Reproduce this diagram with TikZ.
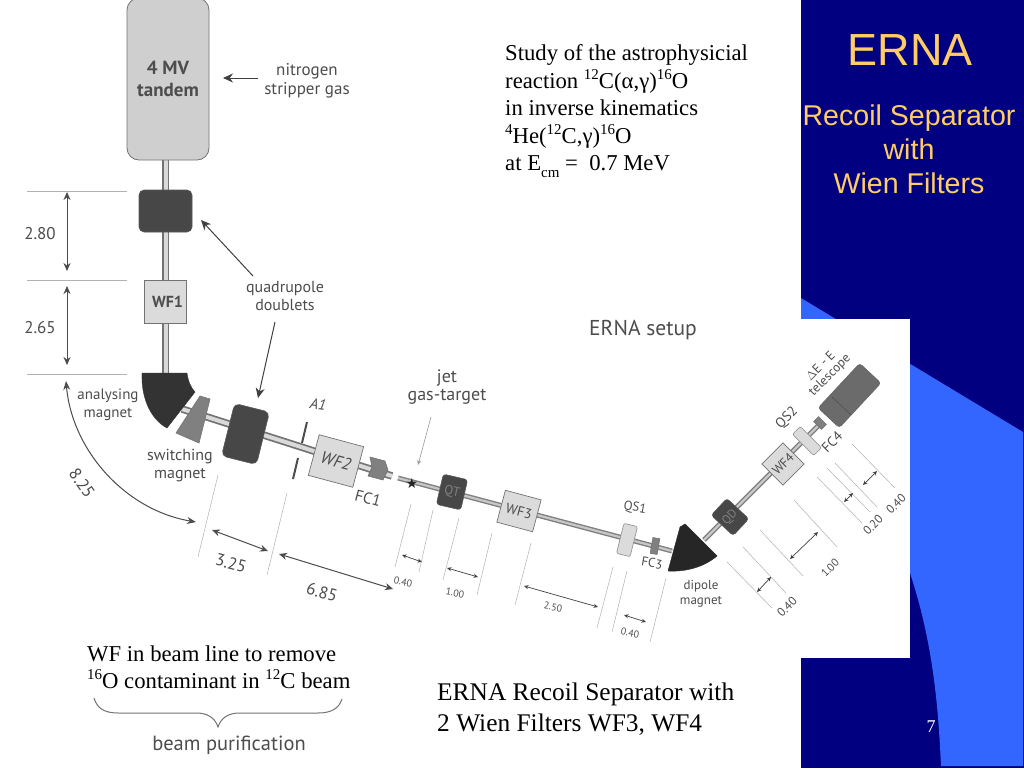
\documentclass[tikz,border=0pt]{standalone}
\usepackage{fontspec}
\setmainfont{Liberation Serif}
\newfontfamily\arialf{Liberation Sans}
\newfontfamily\handf{PT Sans}
\newfontfamily\symf{DejaVu Sans}
\usetikzlibrary{arrows.meta}
\definecolor{navybg}{HTML}{000080}
\definecolor{lightbg}{HTML}{3366FF}
\definecolor{titlecol}{HTML}{FFCC66}
\definecolor{ink}{HTML}{4D4D4D}
\tikzset{
  x=1pt,y=-1pt,
  hand/.style={font=\handf\fontsize{#1}{#1}\selectfont,text=ink,inner sep=0pt,align=center},
  handit/.style={font=\handf\itshape\fontsize{#1}{#1}\selectfont,text=ink,inner sep=0pt,align=center},
  serif/.style={font=\fontsize{#1}{#1}\selectfont,text=black,inner sep=0pt,anchor=base west},
  titletext/.style={font=\arialf\fontsize{#1}{#1}\selectfont,text=titlecol,inner sep=0pt,anchor=base},
  dark/.style={draw=black!65,fill=black!72,line width=.6pt,inner sep=0pt},
  lightbox/.style={draw=black!55,fill=black!14,line width=.7pt,inner sep=0pt,text=ink},
  softbox/.style={draw=black!45,fill=black!14,line width=.6pt,rounded corners=2pt,inner sep=0pt},
  midbox/.style={draw=black!55,fill=black!50,line width=.6pt,inner sep=0pt},
  pipe/.style={draw=black!55,line width=7.5pt},
  pipein/.style={draw=black!15,line width=4pt},
  thinpipe/.style={draw=black!50,line width=5pt},
  thinpipein/.style={draw=black!22,line width=2.2pt},
  ext/.style={draw=black!30,line width=.7pt},
  extthin/.style={draw=black!30,line width=.5pt},
  dim/.style={draw=black!70,line width=1pt,{Stealth[length=8pt,width=7pt]}-{Stealth[length=8pt,width=7pt]}},
  dimsmall/.style={draw=black!75,line width=.7pt,{Stealth[length=4.5pt,width=4pt]}-{Stealth[length=4.5pt,width=4pt]}},
  pointer/.style={draw=black!75,line width=1pt,-{Stealth[length=10pt,width=9pt]}},
}
\newcommand{\ionup}[1]{\raisebox{.38em}{\fontsize{15}{15}\selectfont #1}}
\begin{document}
\begin{tikzpicture}
\useasboundingbox (0,0) rectangle (1024,768);
% slide background
\fill[navybg] (0,0) rectangle (1024,768);
\fill[lightbg] (801,298) -- (1023,432) -- (1023,766) -- (941,766) .. controls (938,700) and (932,640) .. (910,573) -- (801,400) -- cycle;
\fill[white] (0,0) rectangle (801,768);
\fill[white] (801,319) rectangle (910,658);

% beam pipes
\coordinate (tpipe) at (165.5,158);
\coordinate (mpipe) at (165.5,376);
\draw[pipe] (tpipe) -- (mpipe);
\draw[pipein] (tpipe) -- (mpipe);
\coordinate (p1) at (182,409);
\coordinate (p2) at (392,476);
\draw[pipe] (p1) -- (p2);
\draw[pipein] (p1) -- (p2);
\coordinate (p3) at (398,478);
\coordinate (p4) at (672,551);
\draw[thinpipe] (p3) -- (p4);
\draw[thinpipein] (p3) -- (p4);
\coordinate (p5) at (704,540);
\coordinate (p6) at (822,422);
\draw[thinpipe] (p5) -- (p6);
\draw[thinpipein] (p5) -- (p6);

% vertical beam line elements
\node[draw=black!55,fill=black!19,line width=.8pt,rounded corners=12pt,minimum width=82pt,minimum height=162pt,inner sep=0pt,align=center,text=ink,font=\handf\bfseries\fontsize{19}{22}\selectfont] (tandem) at (168,79) {4 MV\\tandem};
\node[dark,rounded corners=5pt,minimum width=53pt,minimum height=42pt] (q1) at (165.5,211) {};
\node[lightbox,minimum width=42pt,minimum height=43pt,font=\handf\bfseries\fontsize{16}{16}\selectfont] (wf1) at (165.5,302) {\hspace{4pt}WF1};

% magnets
\path[fill=black!80,draw=black!80] (142,373) -- (187,373) .. controls (188,381) and (191,388) .. (195,392) -- (167,428) .. controls (152,420) and (141,400) .. (142,373) -- cycle;
\path[midbox] (200,396) -- (210,399) -- (199,443) -- (176,433) -- cycle;

% second section
\node[dark,rounded corners=5pt,minimum width=36pt,minimum height=54pt,rotate=-14] (q2) at (245.5,434) {};
\node[lightbox,minimum width=46pt,minimum height=42pt,rotate=-15,font=\handf\itshape\fontsize{17}{17}\selectfont] (wf2) at (336,461) {WF2};
\path[midbox] (370,457) -- (385,461) -- (388,470) -- (383,480) -- (368,476) -- (372,467) -- cycle;
\coordinate (a1a) at (307,422); \coordinate (a1b) at (302,443);
\coordinate (a1c) at (298,458); \coordinate (a1d) at (293,479);
\draw[draw=black!70,line width=2pt] (a1a) -- (a1b);
\draw[draw=black!70,line width=2pt] (a1c) -- (a1d);
\node[handit=15,rotate=-8] (a1) at (318,404) {A1};
\node[hand=16,rotate=-15] (fc1t) at (368,498) {FC1};
\node[text=black!85,inner sep=0pt,font=\symf\fontsize{14}{14}\selectfont] (star) at (412,483) {★};

% third section
\node[dark,rounded corners=3pt,minimum width=25pt,minimum height=31pt,rotate=-13,text=black!50,font=\handf\fontsize{13}{13}\selectfont] (qt) at (452,492) {QT};
\node[lightbox,minimum width=37pt,minimum height=33pt,rotate=-15,font=\handf\fontsize{14}{14}\selectfont] (wf3) at (519,511) {WF3};
\node[softbox,minimum width=14pt,minimum height=31pt,rotate=-14] (qs1) at (627,540) {};
\node[hand=13,rotate=-10] (qs1t) at (635,508) {QS1};
\node[midbox,minimum width=7pt,minimum height=16pt,rotate=-10] (fc3) at (655,546) {};
\node[hand=13,rotate=-10] (fc3t) at (652,563) {FC3};
\path[fill=black!85,draw=black!85] (685,524) -- (717,556) .. controls (704,567) and (686,572) .. (668,571) -- (680,527) -- cycle;

% last section
\node[dark,rounded corners=3pt,minimum width=23pt,minimum height=30pt,rotate=47,text=black!50,font=\handf\fontsize{12}{12}\selectfont] (qd) at (730,517) {QD};
\node[lightbox,minimum width=30pt,minimum height=30pt,rotate=45,font=\handf\fontsize{13}{13}\selectfont] (wf4) at (783,464) {WF4};
\node[softbox,minimum width=30pt,minimum height=11pt,rotate=-45] (qs2) at (807,441) {};
\node[midbox,minimum width=11pt,minimum height=7pt,rotate=-45] (fc4) at (820,423) {};
\node[draw=black!60,fill=black!58,line width=.6pt,rounded corners=3pt,minimum width=61pt,minimum height=29pt,inner sep=0pt,rotate=47] (tele) at (849.5,395.5) {};
\coordinate (telea) at (832,397);
\coordinate (teleb) at (851,415);
\draw[draw=black!70,line width=.5pt] (telea) -- (teleb);
\node[text=ink,inner sep=0pt,align=center,font=\handf\fontsize{13}{13}\selectfont,rotate=45] (telet) at (825.5,371) {$\Delta$E - E\\telescope};
\node[hand=14,rotate=45] (qs2t) at (787,418) {QS2};
\node[hand=14,rotate=45] (fc4t) at (832,442) {FC4};

% labels
\node[hand=17] (nitro) at (307,81) {nitrogen\\[2pt]stripper gas};
\node[hand=16] (quad) at (285,296) {quadrupole\\[2pt]doublets};
\node[hand=15] (anal) at (108,404.5) {analysing\\[3pt]magnet};
\node[hand=16] (switch) at (180,466) {switching\\[2pt]magnet};
\node[hand=18] (jet) at (447,387) {jet\\gas-target};
\node[hand=13] (dip) at (701,594) {dipole\\[2pt]magnet};
\node[hand=21.5] (setup) at (643,330) {ERNA setup};
\node[hand=20.5] (purif) at (229,745) {beam purification};

% pointers
\coordinate (nitroA) at (258,78);
\coordinate (nitroB) at (223,78);
\draw[pointer] (nitroA) -- (nitroB);
\coordinate (quadA) at (253,276);
\coordinate (quadB) at (201,220);
\draw[pointer] (quadA) -- (quadB);
\coordinate (quadC) at (275,322);
\coordinate (quadD) at (258,398);
\draw[pointer] (quadC) -- (quadD);
\coordinate (jetA) at (431,417);
\coordinate (jetB) at (418,465);
\draw[draw=black!40,line width=.6pt,-{Stealth[length=5pt,width=4pt]}] (jetA) -- (jetB);

% vertical dimensions
\foreach \n/\y in {a/191,b/280,c/374}{
  \coordinate (l\n) at (27,\y);
  \coordinate (r\n) at (127,\y);
  \draw[ext] (l\n) -- (r\n);
}
\coordinate (da1) at (67,192); \coordinate (da2) at (67,271);
\draw[dim] (da1) -- (da2);
\coordinate (db1) at (67,286); \coordinate (db2) at (67,365);
\draw[dim] (db1) -- (db2);
\node[hand=17] (d280) at (40,234) {2.80};
\node[hand=17] (d265) at (40,328) {2.65};

% curved 8.25
\coordinate (ca) at (66,381);
\coordinate (cb) at (196,522);
\draw[draw=black!70,line width=1pt,{Stealth[length=9pt,width=7pt]}-{Stealth[length=9pt,width=7pt]}] (ca) .. controls (72,450) and (125,510) .. (cb);
\node[hand=17,rotate=-55] (d825) at (82,483) {8.25};

% extension lines along the beam
\foreach \i/\a/\b/\c/\d in {1/218/475/198/557,2/287/493/267/575,3/411/504/395/567,4/433/510/419/572,5/459/518/443/580,6/492/533/477/595,7/531/543/515/605,8/613/567/597/628,9/627/571/612/632,10/666/578/650/642,11/727/562/772/608,12/743/547/786/593,13/760/530/803/576,14/794/500/837/547,15/817/477/862/523,16/827/468/870/512,17/835/463/877/507,18/852/444/895/488}{
  \coordinate (ea\i) at (\a,\b);
  \coordinate (eb\i) at (\c,\d);
  \draw[extthin] (ea\i) -- (eb\i);
}

% beam dimensions
\coordinate (d1a) at (212,530); \coordinate (d1b) at (268,551);
\draw[dim] (d1a) -- (d1b);
\coordinate (d2a) at (279,554); \coordinate (d2b) at (393,589);
\draw[dim] (d2a) -- (d2b);
\node[hand=17,rotate=-15] (d325) at (231,563) {3.25};
\node[hand=17,rotate=-15] (d685) at (322,592) {6.85};
\foreach \i/\a/\b/\c/\d in {3/402/555/422/562,4/447/568/478/577,5/524/586/598/607,6/624/615/646/622,7/757/592/771/577,8/790/559/818/532,9/844/502/853/493,10/863/485/877/471}{
  \coordinate (sa\i) at (\a,\b);
  \coordinate (sb\i) at (\c,\d);
  \draw[dimsmall] (sa\i) -- (sb\i);
}
\node[hand=10,rotate=-10] (t1) at (403,582) {0.40};
\node[hand=10,rotate=-10] (t2) at (455,593) {1.00};
\node[hand=10,rotate=-10] (t3) at (553,607) {2.50};
\node[hand=10,rotate=-10] (t4) at (630,633) {0.40};
\node[hand=12,rotate=45] (t5) at (787,607) {0.40};
\node[hand=11,rotate=45] (t6) at (830,568) {1.00};
\node[hand=12,rotate=45] (t7) at (873,525) {0.20};
\node[hand=12,rotate=45] (t8) at (896,504) {0.40};

% brace
\coordinate (brL) at (94,698);
\coordinate (brR) at (342,699);
\coordinate (brM) at (218,727);
\draw[draw=black!55,line width=1pt] (brL) .. controls (97,708) and (104,713) .. (118,713) -- (196,713) .. controls (208,713) and (215,718) .. (brM) .. controls (221,718) and (228,713) .. (240,713) -- (318,713) .. controls (332,713) and (339,708) .. (brR);

% slide texts
\node[serif=22.7] (s1) at (505,60.7) {Study of the astrophysicial};
\node[serif=22.7] (s2) at (505,88.5) {reaction \ionup{12}C(α,γ)\ionup{16}O};
\node[serif=22.7] (s3) at (505,115.7) {in inverse kinematics};
\node[serif=22.7] (s4) at (505,143.5) {\ionup{4}He(\ionup{12}C,γ)\ionup{16}O};
\node[serif=22.7] (s5) at (505,170.7) {at E\raisebox{-.28em}{\fontsize{15}{15}\selectfont cm} =\ \ 0.7 MeV};
\node[serif=22.7] (w1) at (87,661.5) {WF in beam line to remove};
\node[serif=22.7] (w2) at (87,688) {\ionup{16}O contaminant in \ionup{12}C beam};
\node[serif=25.4] (e1) at (437,700) {ERNA Recoil Separator with};
\node[serif=25.4] (e2) at (437,731) {2 Wien Filters WF3, WF4};
\node[titletext=45] (ta) at (910,65) {ERNA};
\node[titletext=28.6] (tb) at (909,125) {Recoil Separator};
\node[titletext=28.6] (tc) at (909,159) {with};
\node[titletext=28.6] (td) at (909,193) {Wien Filters};
\node[font=\fontsize{18}{18}\selectfont,text=white,inner sep=0pt] (pg) at (931,727) {7};
\end{tikzpicture}
\end{document}
